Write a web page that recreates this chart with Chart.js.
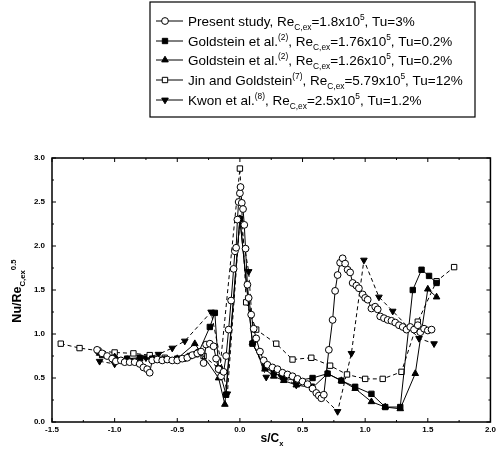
<!DOCTYPE html>
<html>
<head>
<meta charset="utf-8">
<script src="https://cdn.jsdelivr.net/npm/chart.js"></script>
<style>
  html, body { margin: 0; padding: 0; background: #fff; }
</style>
</head>
<body>
<canvas id="chart" width="499" height="457"></canvas>
<script>
// tick values
const xTicks = [-1.5, -1.0, -0.5, 0.0, 0.5, 1.0, 1.5, 2.0];
const yTicks = [0.0, 0.5, 1.0, 1.5, 2.0, 2.5, 3.0];

// Present study, Re=1.8x10^5, Tu=3%
const presentX = [-1.14, -1.1, -1.06, -1.02, -0.99, -0.95, -0.92, -0.88, -0.84, -0.8, -0.77, -0.74, -0.72, -0.7, -0.66, -0.62, -0.58, -0.54, -0.5, -0.46, -0.42, -0.38, -0.34, -0.31, -0.29, -0.27, -0.24, -0.21, -0.19, -0.17, -0.15, -0.13, -0.11, -0.09, -0.07, -0.05, -0.04, -0.03, -0.02, -0.01, 0.0, 0.005, 0.015, 0.025, 0.035, 0.045, 0.06, 0.07, 0.09, 0.11, 0.13, 0.16, 0.19, 0.22, 0.26, 0.3, 0.34, 0.38, 0.42, 0.46, 0.5, 0.54, 0.58, 0.61, 0.63, 0.65, 0.67, 0.71, 0.74, 0.76, 0.78, 0.8, 0.82, 0.84, 0.86, 0.88, 0.9, 0.93, 0.95, 0.98, 1.0, 1.02, 1.05, 1.08, 1.1, 1.12, 1.15, 1.18, 1.21, 1.24, 1.27, 1.3, 1.33, 1.36, 1.39, 1.42, 1.44, 1.47, 1.5, 1.53];
const presentY = [0.82, 0.78, 0.75, 0.72, 0.69, 0.7, 0.68, 0.68, 0.68, 0.66, 0.62, 0.6, 0.56, 0.7, 0.71, 0.7, 0.71, 0.7, 0.7, 0.72, 0.73, 0.76, 0.78, 0.8, 0.67, 0.88, 0.89, 0.86, 0.72, 0.6, 0.52, 0.57, 0.75, 1.05, 1.38, 1.74, 1.94, 1.98, 2.3, 2.5, 2.6, 2.67, 2.49, 2.42, 2.24, 1.97, 1.56, 1.41, 1.22, 1.06, 0.95, 0.8, 0.7, 0.65, 0.62, 0.6, 0.56, 0.54, 0.52, 0.49, 0.46, 0.43, 0.38, 0.33, 0.3, 0.27, 0.31, 0.82, 1.16, 1.49, 1.67, 1.81, 1.86, 1.8, 1.73, 1.7, 1.58, 1.55, 1.52, 1.45, 1.41, 1.39, 1.29, 1.31, 1.28, 1.2, 1.18, 1.16, 1.15, 1.13, 1.1, 1.08, 1.05, 1.08, 1.05, 1.1, 1.02, 1.06, 1.04, 1.05];

// Goldstein et al., Re=1.76x10^5, Tu=0.2%
const gold176X = [-1.1, -1.0, -0.9, -0.8, -0.7, -0.6, -0.5, -0.4, -0.33, -0.24, -0.2, -0.17, -0.11, 0.0, 0.1, 0.2, 0.27, 0.35, 0.45, 0.58, 0.7, 0.81, 0.92, 1.05, 1.16, 1.28, 1.38, 1.45, 1.51, 1.57];
const gold176Y = [0.76, 0.72, 0.72, 0.73, 0.72, 0.71, 0.72, 0.75, 0.79, 1.08, 1.24, 0.61, 0.31, 2.31, 0.89, 0.62, 0.56, 0.5, 0.47, 0.5, 0.55, 0.47, 0.4, 0.32, 0.17, 0.17, 1.5, 1.73, 1.66, 1.58];

// Goldstein et al., Re=1.26x10^5, Tu=0.2%
const gold126X = [-1.12, -1.0, -0.9, -0.8, -0.7, -0.6, -0.5, -0.36, -0.17, -0.12, 0.0, 0.1, 0.2, 0.27, 0.35, 0.45, 0.58, 0.7, 0.81, 0.92, 1.05, 1.16, 1.28, 1.4, 1.5, 1.57];
const gold126Y = [0.78, 0.74, 0.71, 0.72, 0.71, 0.71, 0.72, 0.89, 0.5, 0.2, 2.31, 0.9, 0.6, 0.52, 0.47, 0.42, 0.39, 0.55, 0.47, 0.38, 0.23, 0.17, 0.15, 0.55, 1.51, 1.42];

// Jin and Goldstein, Re=5.79x10^5, Tu=12%
const jinX = [-1.43, -1.28, -1.13, -1.0, -0.85, -0.72, -0.6, -0.45, -0.35, -0.32, -0.29, -0.16, 0.0, 0.05, 0.13, 0.29, 0.42, 0.57, 0.72, 0.855, 1.0, 1.14, 1.29, 1.42, 1.57, 1.71];
const jinY = [0.89, 0.84, 0.81, 0.79, 0.78, 0.76, 0.73, 0.72, 0.77, 0.8, 0.75, 0.6, 2.88, 1.36, 1.05, 0.89, 0.71, 0.73, 0.64, 0.54, 0.49, 0.49, 0.57, 1.14, 1.6, 1.76];

// Kwon et al., Re=2.5x10^5, Tu=1.2%
const kwonX = [-1.12, -1.0, -0.88, -0.75, -0.65, -0.54, -0.44, -0.23, -0.1, 0.0, 0.07, 0.11, 0.21, 0.33, 0.45, 0.57, 0.78, 0.89, 0.99, 1.11, 1.22, 1.43, 1.55];
const kwonY = [0.69, 0.66, 0.7, 0.73, 0.77, 0.84, 0.92, 1.25, 0.32, 2.3, 1.71, 0.9, 0.51, 0.52, 0.42, 0.41, 0.12, 0.78, 1.84, 1.42, 1.26, 0.95, 0.89];

// legend texts: [text, level] level 0 normal, -1 subscript, 1 superscript
const legendLabels = [
  [['Present study, Re', 0], ['C,ex', -1], ['=1.8x10', 0], ['5', 1], [', Tu=3%', 0]],
  [['Goldstein et al.', 0], ['(2)', 1], [', Re', 0], ['C,ex', -1], ['=1.76x10', 0], ['5', 1], [', Tu=0.2%', 0]],
  [['Goldstein et al.', 0], ['(2)', 1], [', Re', 0], ['C,ex', -1], ['=1.26x10', 0], ['5', 1], [', Tu=0.2%', 0]],
  [['Jin and Goldstein', 0], ['(7)', 1], [', Re', 0], ['C,ex', -1], ['=5.79x10', 0], ['5', 1], [', Tu=12%', 0]],
  [['Kwon et al.', 0], ['(8)', 1], [', Re', 0], ['C,ex', -1], ['=2.5x10', 0], ['5', 1], [', Tu=1.2%', 0]]
];
const xTitle = [['s/C', 0], ['x', -1]];
const yTitle = [['Nu/Re', 0], ['C,ex', -1], ['0.5', 1]];

const FONT = '"Liberation Sans", Arial, sans-serif';

function pts(xs, ys) {
  return xs.map((x, i) => ({ x: x, y: ys[i] }));
}

// draws text with sub/superscripts, returns width
function richText(ctx, parts, x, y, size, weight, measureOnly) {
  let cx = x;
  parts.forEach(p => {
    const fs = p[1] === 0 ? size : size * 0.62;
    ctx.font = `${weight} ${fs}px ${FONT}`;
    const dy = p[1] === 1 ? -size * 0.42 : (p[1] === -1 ? size * 0.3 : 0);
    if (!measureOnly) ctx.fillText(p[0], cx, y + dy);
    cx += ctx.measureText(p[0]).width;
  });
  return cx - x;
}

// small marker for the legend rows
function legendMarker(ctx, ds, x, y) {
  const r = ds.pointRadius;
  ctx.beginPath();
  if (ds.pointStyle === 'circle') {
    ctx.arc(x, y, r, 0, Math.PI * 2);
  } else if (ds.pointStyle === 'rect') {
    const h = r * Math.SQRT1_2;
    ctx.rect(x - h, y - h, 2 * h, 2 * h);
  } else {
    const s = ds.pointRotation ? -1 : 1;
    ctx.moveTo(x, y - s * r);
    ctx.lineTo(x + r * 0.87, y + s * r * 0.5);
    ctx.lineTo(x - r * 0.87, y + s * r * 0.5);
    ctx.closePath();
  }
  ctx.fill();
  ctx.stroke();
}

const framePlugin = {
  id: 'frame',
  afterDraw(chart) {
    const ctx = chart.ctx;
    const a = chart.chartArea;
    const xs = chart.scales.x, ys = chart.scales.y;
    ctx.save();
    ctx.strokeStyle = '#000';
    ctx.lineWidth = 1.5;
    ctx.strokeRect(a.left, a.top, a.right - a.left, a.bottom - a.top);

    // inward ticks on all four sides
    ctx.lineWidth = 1;
    ctx.beginPath();
    for (let v = -1.5; v <= 2.0001; v += 0.25) {
      const px = xs.getPixelForValue(v);
      const len = Math.abs(v * 2 - Math.round(v * 2)) < 0.01 ? 4 : 2;
      ctx.moveTo(px, a.bottom); ctx.lineTo(px, a.bottom - len);
      ctx.moveTo(px, a.top); ctx.lineTo(px, a.top + len);
    }
    for (let v = 0; v <= 3.0001; v += 0.25) {
      const py = ys.getPixelForValue(v);
      const len = Math.abs(v * 2 - Math.round(v * 2)) < 0.01 ? 4 : 2;
      ctx.moveTo(a.left, py); ctx.lineTo(a.left + len, py);
      ctx.moveTo(a.right, py); ctx.lineTo(a.right - len, py);
    }
    ctx.stroke();

    // axis titles
    ctx.fillStyle = '#000';
    ctx.textBaseline = 'alphabetic';
    const tw = richText(ctx, xTitle, 0, 0, 12, 'bold', true);
    richText(ctx, xTitle, 272 - tw / 2, 442, 12, 'bold');
    ctx.save();
    ctx.translate(21, 291);
    ctx.rotate(-Math.PI / 2);
    const yw = richText(ctx, yTitle, 0, 0, 12.5, 'bold', true);
    richText(ctx, yTitle, -yw / 2, 0, 12.5, 'bold');
    ctx.restore();

    // legend box
    const box = { l: 150, t: 2, r: 475, b: 117 };
    ctx.lineWidth = 1.2;
    ctx.strokeRect(box.l, box.t, box.r - box.l, box.b - box.t);
    const rowY = [21, 41, 60, 80, 100];
    chart.data.datasets.forEach((ds, i) => {
      const y = rowY[i];
      ctx.save();
      ctx.strokeStyle = '#000';
      ctx.lineWidth = 1;
      ctx.beginPath();
      ctx.moveTo(156, y); ctx.lineTo(183, y);
      ctx.stroke();
      ctx.fillStyle = ds.pointBackgroundColor;
      legendMarker(ctx, ds, 165, y);
      ctx.restore();
      ctx.fillStyle = '#000';
      richText(ctx, legendLabels[i], 188, y + 4.5, 13.5, 'normal');
    });
    ctx.restore();
  }
};

const common = {
  showLine: true,
  borderColor: '#000',
  borderWidth: 1,
  pointBorderColor: '#000',
  pointBorderWidth: 1
};

new Chart(document.getElementById('chart'), {
  type: 'scatter',
  data: {
    datasets: [
      Object.assign({}, common, { label: 'Present study', data: pts(presentX, presentY),
        pointStyle: 'circle', pointRadius: 3.4, pointBackgroundColor: '#fff' }),
      Object.assign({}, common, { label: 'Goldstein 1.76', data: pts(gold176X, gold176Y),
        pointStyle: 'rect', pointRadius: 3.8, pointBackgroundColor: '#000' }),
      Object.assign({}, common, { label: 'Goldstein 1.26', data: pts(gold126X, gold126Y),
        pointStyle: 'triangle', pointRadius: 3.8, pointBackgroundColor: '#000' }),
      Object.assign({}, common, { label: 'Jin and Goldstein', data: pts(jinX, jinY),
        pointStyle: 'rect', pointRadius: 3.8, pointBackgroundColor: '#fff', borderDash: [4, 3] }),
      Object.assign({}, common, { label: 'Kwon et al.', data: pts(kwonX, kwonY),
        pointStyle: 'triangle', pointRotation: 180, pointRadius: 3.8, pointBackgroundColor: '#000', borderDash: [4, 3] })
    ]
  },
  options: {
    responsive: false,
    animation: false,
    layout: { padding: { top: 158, right: 8, left: 0, bottom: 0 } },
    plugins: { legend: { display: false }, tooltip: { enabled: false } },
    scales: {
      x: {
        type: 'linear', min: -1.5, max: 2.0,
        afterBuildTicks: s => { s.ticks = xTicks.map(v => ({ value: v })); },
        afterFit: s => { s.height = 35; },
        grid: { display: false, drawTicks: false },
        border: { display: false },
        ticks: { padding: 3, color: '#000', font: { family: FONT, size: 8, weight: 'bold' },
          callback: v => v.toFixed(1) }
      },
      y: {
        type: 'linear', min: 0, max: 3.0,
        afterBuildTicks: s => { s.ticks = yTicks.map(v => ({ value: v })); },
        afterFit: s => { s.width = 52; },
        grid: { display: false, drawTicks: false },
        border: { display: false },
        ticks: { padding: 7, color: '#000', font: { family: FONT, size: 8, weight: 'bold' },
          callback: v => v.toFixed(1) }
      }
    }
  },
  plugins: [framePlugin]
});
</script>
</body>
</html>
